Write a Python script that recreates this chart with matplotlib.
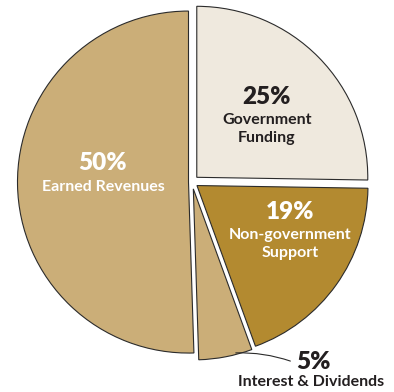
import matplotlib.pyplot as plt

# revenue sources, drawn clockwise from 12 o'clock
sources = ["Government\nFunding", "Non-government\nSupport",
           "Interest & Dividends", "Earned Revenues"]
shares = [25, 19, 5, 50]
colors = ["#EFE9DE", "#B38A30", "#CBAE78", "#CBAE78"]
# offsets in data units (1 unit = 1 px here)
explode = [6.7, 6.1, 7.0, 3.5]

plt.rcParams["font.family"] = ["Lato", "DejaVu Sans"]

fig = plt.figure(figsize=(3.94, 3.92), dpi=100)
ax = fig.add_axes([0, 0, 1, 1])

wedges, _ = ax.pie(shares, colors=colors, explode=explode, startangle=90,
                   counterclock=False, center=(192, 210), radius=171,
                   wedgeprops=dict(edgecolor="#2b2b2b", linewidth=0.8),
                   frame=True)
ax.set_xlim(0, 394)
ax.set_ylim(0, 392)
ax.set_aspect("equal")
ax.axis("off")

dark = "#231F20"
big = 17.5
small = 11.5

ax.text(267, 295, f"{shares[0]}%", ha="center", va="center",
        fontsize=big, fontweight="heavy", color=dark)
ax.text(267, 263, sources[0], ha="center", va="center",
        fontsize=small, fontweight="bold", color=dark, linespacing=1.3)

ax.text(290, 180, f"{shares[1]}%", ha="center", va="center",
        fontsize=big, fontweight="heavy", color="white")
ax.text(290, 148, sources[1], ha="center", va="center",
        fontsize=small, fontweight="bold", color="white", linespacing=1.3)

ax.text(103, 229, f"{shares[3]}%", ha="center", va="center",
        fontsize=big, fontweight="heavy", color="white")
ax.text(103, 205, sources[3], ha="center", va="center",
        fontsize=small, fontweight="bold", color="white")

ax.text(313, 30, f"{shares[2]}%", ha="center", va="center",
        fontsize=big, fontweight="heavy", color=dark)
ax.text(311, 10, sources[2], ha="center", va="center",
        fontsize=small, fontweight="bold", color=dark)

# leader line from the small slice to its label
ax.annotate("", xy=(233, 39), xytext=(293, 30),
            arrowprops=dict(arrowstyle="-", color="#2b2b2b", lw=0.8,
                            connectionstyle="arc3,rad=0.1"))

fig.savefig("out.png", dpi=100, facecolor="white")
